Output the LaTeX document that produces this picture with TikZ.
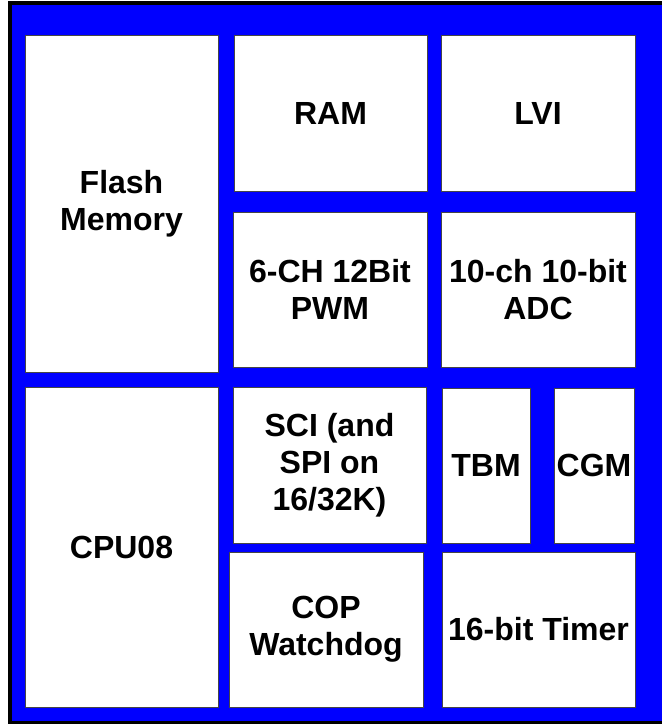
\documentclass[tikz,border=0pt]{standalone}
\usepackage{fontspec}
\setmainfont{Liberation Sans}
\usepackage{tikz}
\usetikzlibrary{positioning}

\begin{document}
\begin{tikzpicture}[x=1pt,y=-1pt,
  box/.style={draw=gray!55!black,line width=1pt,fill=white,align=center,inner sep=0pt,
    font=\bfseries\fontsize{32}{37}\selectfont},
  frame/.style={fill=black}]
\useasboundingbox (0,0) rectangle (662,724);
% outer frame and blue board
\fill[frame] (8,1) rectangle (670,724);
\fill[blue] (12,5) rectangle (670,721);
% left column
\node[box,minimum width=193pt,minimum height=337pt] (flash) at (121.5,203.5) {Flash\\Memory};
\node[box,minimum width=193pt,minimum height=320pt] (cpu) at (121.5,547) {CPU08};
% upper blocks
\node[box,minimum width=193pt,minimum height=156pt] (ram) at (330.5,113) {RAM};
\node[box,minimum width=194pt,minimum height=156pt] (lvi) at (538,113) {LVI};
\node[box,minimum width=194pt,minimum height=155pt] (pwm) at (330,289.5) {6-CH 12Bit\\PWM};
\node[box,minimum width=194pt,minimum height=155pt] (adc) at (538,289.5) {10-ch 10-bit\\ADC};
% lower blocks
\node[box,minimum width=193pt,minimum height=156pt] (sci) at (329.5,465) {SCI (and\\SPI on\\16/32K)};
\node[box,minimum width=88pt,minimum height=155pt] (tbm) at (486,465.5) {TBM};
\node[box,minimum width=80pt,minimum height=155pt] (cgm) at (594,465.5) {CGM};
\node[box,minimum width=194pt,minimum height=155pt] (cop) at (326,629.5) {COP\\Watchdog};
\node[box,minimum width=193pt,minimum height=155pt] (timer) at (538.5,629.5) {16-bit Timer};
\end{tikzpicture}
\end{document}
